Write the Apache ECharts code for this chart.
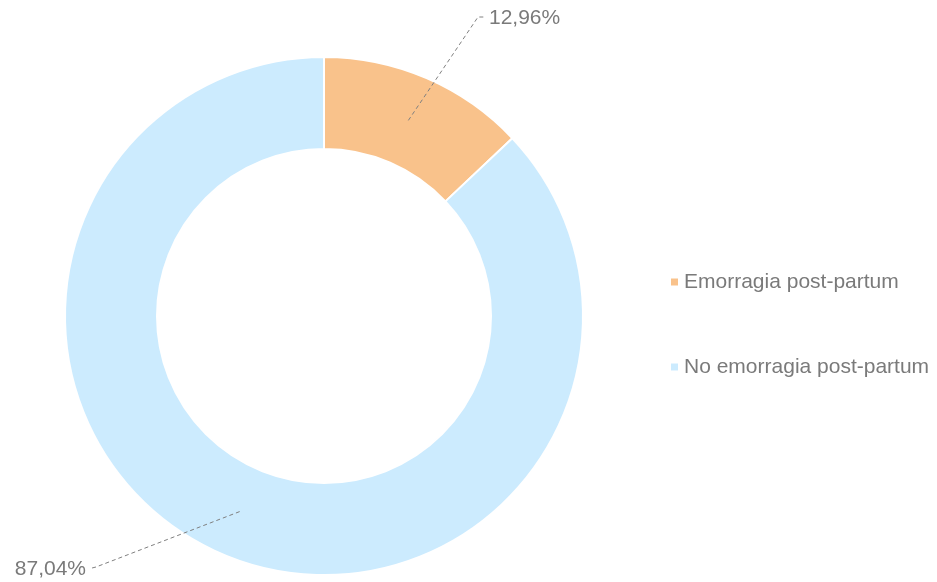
<!DOCTYPE html>
<html>
<head>
<meta charset="utf-8">
<script src="https://cdn.jsdelivr.net/npm/echarts@6/dist/echarts.min.js"></script>
<style>
  html, body { margin: 0; padding: 0; background: #ffffff; }
  #chart { width: 937px; height: 582px; }
</style>
</head>
<body>
<div id="chart"></div>
<script>
// Share of deliveries with / without post-partum haemorrhage
const categories = ['Emorragia post-partum', 'No emorragia post-partum'];
const shares = [12.96, 87.04];
const sliceColors = ['#F9C28B', '#CCEBFE'];

const textGray = '#7a7a7a';
const fontFamily = '"Liberation Sans", Arial, Helvetica, sans-serif';

const formatShare = v => v.toFixed(2).replace('.', ',') + '%';

const ringData = categories.map((name, i) => ({
  name: name,
  value: shares[i],
  itemStyle: { color: sliceColors[i] }
}));

// Label placement: where each percentage sits and how its leader line bends
const labelPlacement = [
  { x: 489, y: 18, align: 'left', bend: [478, 17], end: [485, 17] },
  { x: 86, y: 569, align: 'right', bend: [96, 567], end: [92, 568] }
];

const chart = echarts.init(document.getElementById('chart'), null, { renderer: 'canvas' });

chart.setOption({
  animation: false,
  backgroundColor: '#ffffff',
  legend: {
    orient: 'vertical',
    left: 664,
    top: 266,
    data: categories,
    icon: 'rect',
    itemWidth: 9,
    itemHeight: 9,
    itemGap: 63,
    selectedMode: false,
    textStyle: {
      color: textGray,
      fontSize: 21,
      lineHeight: 22,
      fontFamily: fontFamily
    }
  },
  series: [
    {
      // the doughnut itself
      type: 'pie',
      z: 2,
      center: [324, 316],
      radius: [167, 259],
      startAngle: 90,
      clockwise: true,
      silent: true,
      label: { show: false },
      labelLine: { show: false },
      itemStyle: { borderColor: '#ffffff', borderWidth: 2 },
      emphasis: { disabled: true },
      data: ringData
    },
    {
      // invisible companion at mid-ring radius that carries the percentage labels
      type: 'pie',
      z: 5,
      center: [324, 316],
      radius: [0, 213],
      startAngle: 90,
      clockwise: true,
      silent: true,
      avoidLabelOverlap: false,
      legendHoverLink: false,
      itemStyle: { color: 'rgba(0,0,0,0)', borderWidth: 0 },
      emphasis: { disabled: true },
      label: {
        show: true,
        position: 'outside',
        formatter: p => formatShare(p.value),
        color: textGray,
        fontSize: 21,
        fontFamily: fontFamily
      },
      labelLine: {
        show: true,
        length: 20,
        length2: 10,
        lineStyle: { color: '#808080', width: 1, type: [4, 3] }
      },
      labelLayout: function (params) {
        const spot = labelPlacement[params.dataIndex];
        const start = params.labelLinePoints ? params.labelLinePoints[0] : spot.bend;
        return {
          x: spot.x,
          y: spot.y,
          align: spot.align,
          verticalAlign: 'middle',
          labelLinePoints: [start, spot.bend, spot.end]
        };
      },
      data: ringData.map(d => ({ name: d.name, value: d.value }))
    }
  ]
});
</script>
</body>
</html>
